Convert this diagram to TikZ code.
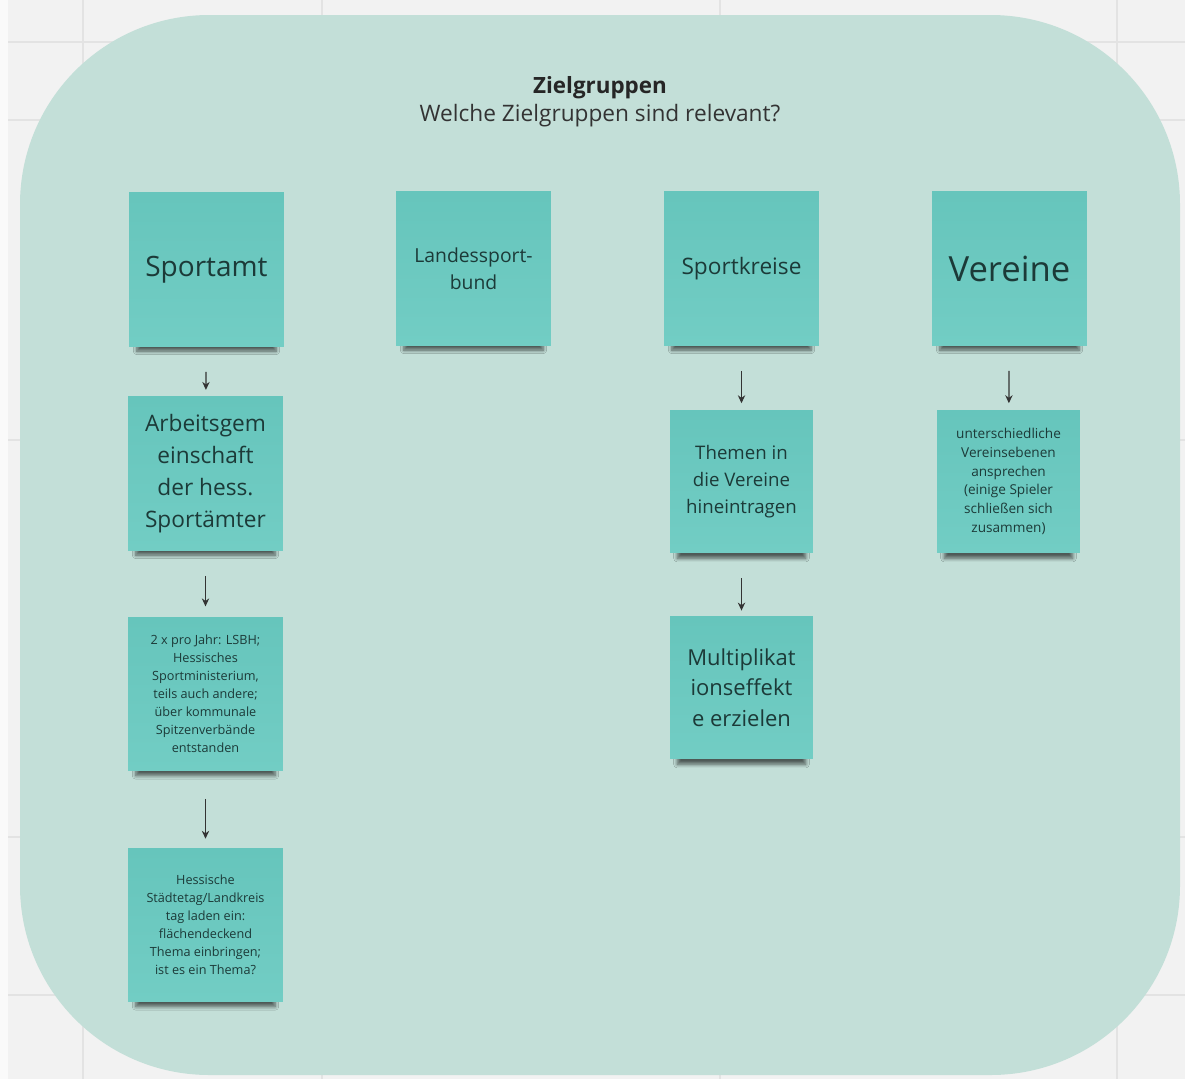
\documentclass[tikz,border=0pt]{standalone}
\usepackage{fontspec}
\setmainfont{Open Sans}
\usepackage{tikz}
\usetikzlibrary{arrows.meta,shadows.blur,positioning}
\definecolor{board}{HTML}{F2F2F2}
\definecolor{gridline}{HTML}{E3E3E3}
\definecolor{frame}{HTML}{C3DFD8}
\definecolor{sticky}{HTML}{72CDC4}
\definecolor{stickytop}{HTML}{66C5BC}
\definecolor{ink}{HTML}{1C3A38}

\begin{document}
\begin{tikzpicture}[x=0.75pt,y=-0.75pt,
    note/.style={top color=stickytop, bottom color=sticky, text=ink, align=center,
        minimum width=116pt, minimum height=115pt, inner sep=2pt,
        blur shadow={shadow xshift=0pt, shadow yshift=-10.5pt, shadow scale=0.9,
            shadow opacity=60, shadow blur radius=3pt, shadow blur steps=6}},
    smallnote/.style={note, minimum width=107pt, minimum height=107pt},
    link/.style={-{Stealth[length=6pt,width=5.5pt]}, line width=0.9pt, draw=black!80,
        shorten <=19pt, shorten >=5pt}]
% board with grid
\useasboundingbox (0,0) rectangle (1185,1079);
\fill[board] (0,0) rectangle (1185,1079);
\fill[white!60!board] (0,0) rectangle (8,1079);
\foreach \gx in {83,322,720,1117}{
    \draw[gridline, line width=0.8pt] (\gx,0) -- (\gx,1079);
}
\foreach \gy in {42,120,440,837,995}{
    \draw[gridline, line width=0.8pt] (8,\gy) -- (1185,\gy);
}
% frame
\fill[frame, rounded corners=142pt] (20,15) rectangle (1180,1075);
\node[font=\fontsize{16.8}{19}\selectfont\bfseries, text=black!85] (title) at (600,88) {Zielgruppen};
\node[font=\fontsize{17}{20}\selectfont, text=black!80] (question) at (600,116) {Welche Zielgruppen sind relevant?};
% top row
\node[note, font=\fontsize{21}{26}\selectfont] (sportamt) at (206.5,269.5) {Sportamt};
\node[note, font=\fontsize{14.5}{20}\selectfont] (landes) at (473.5,268.5) {Landessport-\\bund};
\node[note, font=\fontsize{17}{21}\selectfont] (kreise) at (741.5,268.5) {Sportkreise};
\node[note, font=\fontsize{26}{30}\selectfont] (vereine) at (1009.5,268.5) {Vereine};
% Sportamt column
\node[note, font=\fontsize{17}{24}\selectfont] (arbeits) at (205.5,473.5) {Arbeitsgem\\einschaft\\der hess.\\Sportämter};
\node[note, font=\fontsize{9.5}{13.5}\selectfont] (jahr) at (205.5,694) {2 x pro Jahr: LSBH;\\Hessisches\\Sportministerium,\\teils auch andere;\\über kommunale\\Spitzenverbände\\entstanden};
\node[note, font=\fontsize{9.5}{13.5}\selectfont] (staedte) at (205.5,925) {Hessische\\Städtetag/Landkreis\\tag laden ein:\\flächendeckend\\Thema einbringen;\\ist es ein Thema?};
% Sportkreise column
\node[smallnote, font=\fontsize{14}{20}\selectfont] (themen) at (741.5,481.5) {Themen in\\die Vereine\\hineintragen};
\node[smallnote, font=\fontsize{16.5}{23}\selectfont] (multi) at (741.5,687.5) {Multiplikat\\ionseffekt\\e erzielen};
% Vereine column
\node[smallnote, font=\fontsize{10.2}{14}\selectfont] (ebenen) at (1008.5,481.5) {unterschiedliche\\Vereinsebenen\\ansprechen\\(einige Spieler\\schließen sich\\zusammen)};
% arrows
\draw[link] (sportamt) -- (arbeits);
\draw[link, shorten >=8pt] (arbeits) -- (jahr);
\draw[link, shorten <=21pt, shorten >=7pt] (jahr) -- (staedte);
\draw[link] (kreise) -- (themen);
\draw[link, shorten >=4pt] (themen) -- (multi);
\draw[link] (vereine) -- (ebenen);
\end{tikzpicture}
\end{document}
